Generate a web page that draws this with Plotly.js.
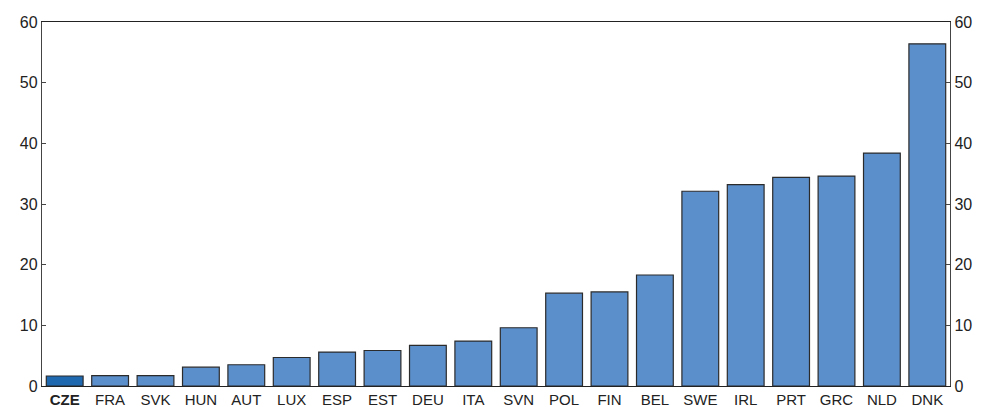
<!DOCTYPE html>
<html><head><meta charset="utf-8">
<script src="https://cdn.plot.ly/plotly-3.0.1.min.js"></script>
<style>html,body{margin:0;padding:0;background:#fff}#chart{width:983px;height:407px}</style>
</head><body><div id="chart"></div>
<script>
const categories = ["CZE","FRA","SVK","HUN","AUT","LUX","ESP","EST","DEU","ITA","SVN","POL","FIN","BEL","SWE","IRL","PRT","GRC","NLD","DNK"];
const values = [1.65,1.7,1.7,3.1,3.5,4.7,5.6,5.85,6.7,7.4,9.6,15.3,15.5,18.3,32.1,33.2,34.4,34.6,38.4,56.4];
const highlight = "CZE";
const yTicks = [0,10,20,30,40,50,60];

const colors = categories.map(c => c === highlight ? "#1f69b1" : "#5b8fcb");
const tickText = categories.map(c => c === highlight ? "<b>" + c + "</b>" : c);

const traces = [
  {type:"bar", x:categories, y:values, marker:{color:colors, line:{color:"#2b2b2b", width:1.2}}, hoverinfo:"x+y"},
  {type:"scatter", x:[categories[0]], y:[0], yaxis:"y2", mode:"markers", marker:{opacity:0}, hoverinfo:"skip", showlegend:false}
];
const axisFont = {family:"Liberation Sans, Arial, sans-serif", size:16, color:"#222"};
const layout = {
  width:983, height:407,
  margin:{l:42, r:33, t:22, b:21},
  paper_bgcolor:"#fff", plot_bgcolor:"#fff",
  showlegend:false, bargap:0.19,
  xaxis:{type:"category", categoryorder:"array", categoryarray:categories, tickvals:categories, ticktext:tickText,
    range:[-0.5, categories.length - 0.5], autorange:false,
    showline:true, linecolor:"#222", linewidth:1.3, mirror:true, ticks:"", showgrid:false, zeroline:false,
    tickfont:{family:"Liberation Sans, Arial, sans-serif", size:15, color:"#222"}, ticklabelstandoff:0},
  yaxis:{range:[0,60], tickvals:yTicks, showline:true, linecolor:"#444", linewidth:1.2, ticks:"inside", ticklen:4,
    tickcolor:"#444", showgrid:false, zeroline:false, tickfont:axisFont},
  yaxis2:{range:[0,60], tickvals:yTicks, overlaying:"y", side:"right", showline:true, linecolor:"#444", linewidth:1.2,
    ticks:"inside", ticklen:4, tickcolor:"#444", showgrid:false, zeroline:false, tickfont:axisFont}
};
Plotly.newPlot("chart", traces, layout, {displayModeBar:false, staticPlot:true});
</script></body></html>
